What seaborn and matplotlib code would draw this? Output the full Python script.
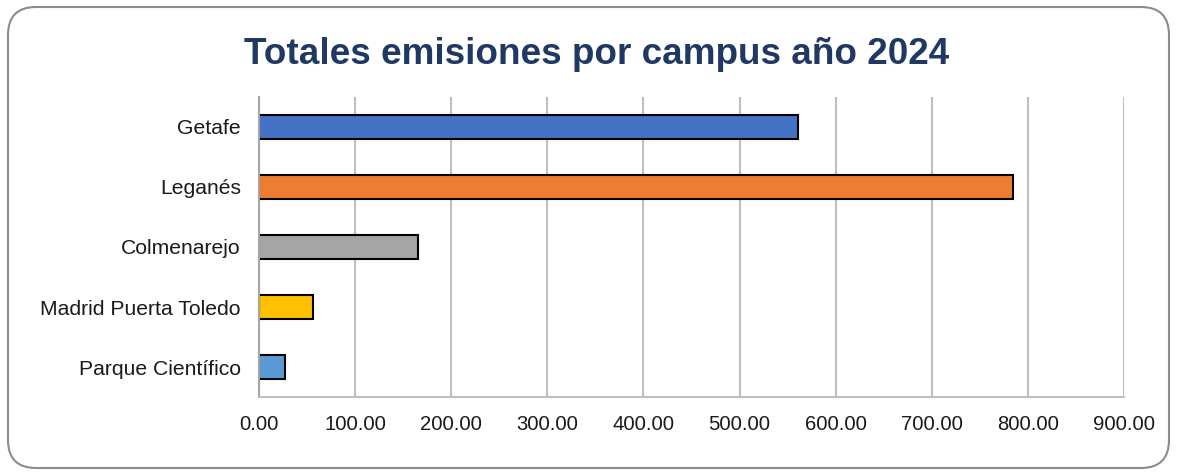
import matplotlib
matplotlib.use("Agg")
import matplotlib.pyplot as plt
import matplotlib.patches as mpatches
from matplotlib.transforms import IdentityTransform
import seaborn as sns
import pandas as pd

campus = ["Getafe", "Leganés", "Colmenarejo", "Madrid Puerta Toledo", "Parque Científico"]
emisiones = [561, 785, 165, 56, 27]
colores = ["#4472C4", "#ED7D31", "#A5A5A5", "#FFC000", "#5B9BD5"]
xticks = [0, 100, 200, 300, 400, 500, 600, 700, 800, 900]
titulo = "Totales emisiones por campus año 2024"

sns.set_theme(style="white")
plt.rcParams["font.family"] = ["Liberation Sans", "DejaVu Sans"]

df = pd.DataFrame({"campus": campus, "emisiones": emisiones})

fig = plt.figure(figsize=(11.77, 4.75), dpi=100)
ax = fig.add_axes([0.22, 0.164, 0.735, 0.632])

sns.barplot(data=df, y="campus", x="emisiones", hue="campus", palette=colores,
            order=campus, hue_order=campus, width=0.4, edgecolor="black",
            linewidth=1.5, legend=False, ax=ax, orient="h", saturation=1)

ax.set_xlim(0, 900)
ax.set_xticks(xticks)
ax.set_xticklabels([f"{v:.2f}" for v in xticks], fontsize=14.6, color="#1a1a1a")
for lbl in ax.get_yticklabels():
    lbl.set_fontsize(15.2)
    lbl.set_color("#1a1a1a")
ax.tick_params(axis="y", length=0, pad=13)
ax.tick_params(axis="x", length=0, pad=13)
ax.set_xlabel("")
ax.set_ylabel("")
ax.xaxis.grid(True, color="#BFBFBF", linewidth=1.5)
ax.set_axisbelow(True)
for s in ["top", "right"]:
    ax.spines[s].set_visible(False)
ax.spines["left"].set_color("#A6A6A6")
ax.spines["left"].set_linewidth(1.5)
ax.spines["bottom"].set_color("#BFBFBF")
ax.spines["bottom"].set_linewidth(1.5)

fig.text(0.507, 0.886, titulo, ha="center", va="center", fontsize=26.6,
         fontweight="bold", color="#1F3864")

box = mpatches.FancyBboxPatch((8, 7), 1161, 461,
                              boxstyle="round,pad=0,rounding_size=28",
                              transform=IdentityTransform(), fill=False,
                              edgecolor="#8C8C8C", linewidth=1.5)
fig.patches.append(box)

fig.savefig("out.png", dpi=100)
